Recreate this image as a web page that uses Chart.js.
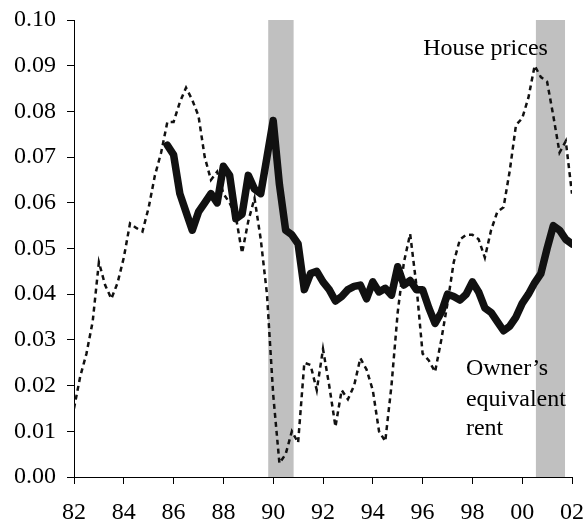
<!DOCTYPE html>
<html>
<head>
<meta charset="utf-8">
<script src="https://cdn.jsdelivr.net/npm/chart.js@4.4.1/dist/chart.umd.min.js"></script>
<style>
  html, body { margin: 0; padding: 0; background: #fff; }
  #wrap { width: 584px; height: 522px; }
</style>
</head>
<body>
<div id="wrap"><canvas id="chart"></canvas></div>
<script>
  // quarterly, 1982Q1 .. 2002Q1 (years written as 82 .. 102)
  const quarters = [];
  for (let i = 0; i <= 80; i++) quarters.push(82 + i / 4);

  const housePrices = [
    0.015, 0.022, 0.027, 0.034,     // 82
    0.047, 0.042, 0.039, 0.0425,    // 83
    0.048, 0.0555, 0.0545, 0.0537,  // 84
    0.059, 0.066, 0.071, 0.0777,    // 85
    0.0777, 0.082, 0.0852, 0.0825,  // 86
    0.079, 0.070, 0.065, 0.0668,    // 87
    0.062, 0.060, 0.057, 0.049,     // 88
    0.056, 0.061, 0.052, 0.040,     // 89
    0.018, 0.003, 0.005, 0.010,     // 90
    0.0075, 0.025, 0.0245, 0.019,   // 91
    0.028, 0.020, 0.011, 0.019,     // 92
    0.017, 0.020, 0.026, 0.0235,    // 93
    0.019, 0.010, 0.0078, 0.020,    // 94
    0.036, 0.047, 0.0532, 0.042,    // 95
    0.027, 0.0255, 0.023, 0.030,    // 96
    0.038, 0.047, 0.052, 0.053,     // 97
    0.053, 0.052, 0.048, 0.054,     // 98
    0.058, 0.059, 0.067, 0.077,     // 99
    0.0785, 0.083, 0.090, 0.0875,   // 00
    0.0865, 0.079, 0.071, 0.0735,   // 01
    0.062                           // 02
  ];

  const ownersRent = [
    null, null, null, null,         // 82
    null, null, null, null,         // 83
    null, null, null, null,         // 84
    null, null, null, 0.0726,       // 85
    0.0705, 0.062, 0.058, 0.054,    // 86
    0.058, 0.060, 0.062, 0.060,     // 87
    0.068, 0.066, 0.0565, 0.0575,   // 88
    0.066, 0.063, 0.062, 0.070,     // 89
    0.078, 0.064, 0.054, 0.053,     // 90
    0.051, 0.041, 0.0445, 0.045,    // 91
    0.0427, 0.041, 0.0385, 0.0395,  // 92
    0.041, 0.0417, 0.042, 0.039,    // 93
    0.0427, 0.0405, 0.0413, 0.0398, // 94
    0.046, 0.042, 0.043, 0.041,     // 95
    0.041, 0.037, 0.0336, 0.036,    // 96
    0.040, 0.0395, 0.0387, 0.040,   // 97
    0.0427, 0.0405, 0.037, 0.036,   // 98
    0.034, 0.032, 0.033, 0.035,     // 99
    0.038, 0.040, 0.0425, 0.0445,   // 00
    0.050, 0.055, 0.054, 0.052,     // 01
    0.051                           // 02
  ];

  // shaded recessions [start, end] in years
  const recessions = [[89.8, 90.82], [100.55, 101.72]];

  const yTicks = [0, 0.01, 0.02, 0.03, 0.04, 0.05, 0.06, 0.07, 0.08, 0.09, 0.10];
  const xTicks = [82, 84, 86, 88, 90, 92, 94, 96, 98, 100, 102];

  const serif = "'Liberation Serif', 'Times New Roman', serif";

  const recessionBands = {
    id: 'recessionBands',
    beforeDatasetsDraw(chart) {
      const { ctx, chartArea, scales } = chart;
      ctx.save();
      ctx.fillStyle = '#c0c0c0';
      recessions.forEach(([a, b]) => {
        const x1 = scales.x.getPixelForValue(a);
        const x2 = scales.x.getPixelForValue(b);
        ctx.fillRect(x1, chartArea.top, x2 - x1, chartArea.bottom - chartArea.top);
      });
      ctx.restore();
    }
  };

  const seriesLabels = {
    id: 'seriesLabels',
    afterDatasetsDraw(chart) {
      const { ctx, scales } = chart;
      ctx.save();
      ctx.fillStyle = '#000';
      ctx.font = '24px ' + serif;
      ctx.textBaseline = 'alphabetic';
      ctx.textAlign = 'center';
      ctx.fillText('House prices', scales.x.getPixelForValue(98.53), scales.y.getPixelForValue(0.0923));
      ctx.textAlign = 'left';
      const x = scales.x.getPixelForValue(97.74);
      const y = scales.y.getPixelForValue(0.0223);
      ctx.fillText('Owner\u2019s', x, y);
      ctx.fillText('equivalent', x, y + 31);
      ctx.fillText('rent', x, y + 60);
      ctx.restore();
    }
  };

  new Chart(document.getElementById('chart'), {
    type: 'line',
    data: {
      datasets: [
        {
          label: 'House prices',
          data: quarters.map((q, i) => ({ x: q, y: housePrices[i] })),
          borderColor: '#111',
          borderWidth: 2.5,
          borderDash: [5, 4],
          pointRadius: 0,
          tension: 0,
          fill: false
        },
        {
          label: 'Owner\u2019s equivalent rent',
          data: quarters.map((q, i) => ({ x: q, y: ownersRent[i] })),
          borderColor: '#111',
          borderWidth: 7.5,
          borderJoinStyle: 'round',
          borderCapStyle: 'round',
          pointRadius: 0,
          tension: 0,
          fill: false,
          spanGaps: false
        }
      ]
    },
    options: {
      responsive: true,
      maintainAspectRatio: false,
      animation: false,
      layout: { padding: { top: 20, right: 0, left: 0, bottom: 0 } },
      plugins: {
        legend: { display: false },
        tooltip: { enabled: false }
      },
      scales: {
        x: {
          type: 'linear',
          min: 82,
          max: 102,
          afterFit(scale) {
            scale.height = 45;
            scale.paddingLeft = 0;
            scale.paddingRight = 12;
          },
          afterBuildTicks(scale) { scale.ticks = xTicks.map(v => ({ value: v })); },
          grid: { drawOnChartArea: false, drawTicks: true, tickLength: 7, color: '#000' },
          border: { display: true, color: '#000', width: 1 },
          ticks: {
            color: '#000',
            padding: 14,
            maxRotation: 0,
            font: { family: serif, size: 24 },
            callback: v => String(v % 100).padStart(2, '0')
          }
        },
        y: {
          min: 0,
          max: 0.1,
          afterFit(scale) {
            scale.width = 74;
            scale.paddingTop = 0;
            scale.paddingBottom = 0;
          },
          afterBuildTicks(scale) { scale.ticks = yTicks.map(v => ({ value: v })); },
          grid: { drawOnChartArea: false, drawTicks: true, tickLength: 7, color: '#000' },
          border: { display: true, color: '#000', width: 1 },
          ticks: {
            color: '#000',
            padding: 11,
            font: { family: serif, size: 24 },
            callback: v => v.toFixed(2)
          }
        }
      }
    },
    plugins: [recessionBands, seriesLabels]
  });
</script>
</body>
</html>
